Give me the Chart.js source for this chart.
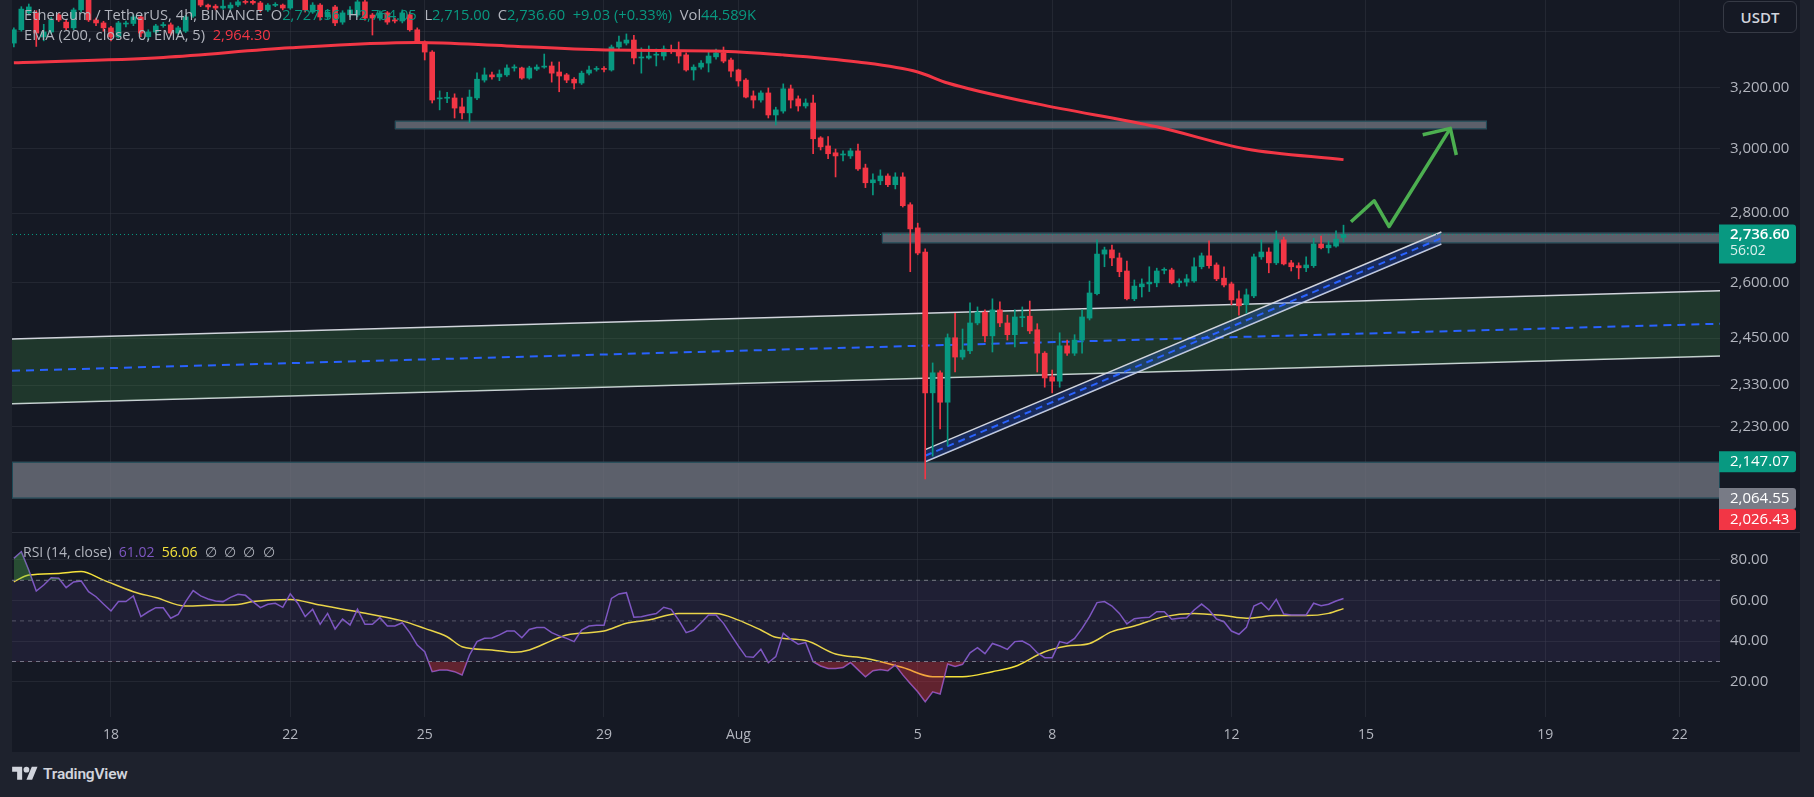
<!DOCTYPE html>
<html>
<head>
<meta charset="utf-8">
<script src="https://cdn.jsdelivr.net/npm/chart.js"></script>
<style>
  html, body { margin: 0; padding: 0; width: 1814px; height: 797px; overflow: hidden; background: #1e222d; font-family: 'Open Sans', sans-serif; }
  #frame { position: absolute; left: 12px; top: 0; width: 1788px; height: 752px; background: #151924; }
  #priceChart { position: absolute; left: 0; top: 0; }
  #rsiChart { position: absolute; left: 0; top: 532px; }
  #sep { position: absolute; left: 12px; top: 532px; width: 1788px; height: 1px; background: #2a2e39; }
  #usdt { position: absolute; left: 1723px; top: 1px; width: 72px; height: 30px; border: 1px solid #363a45; border-radius: 6px;
          background: #151924; color: #d1d4dc; font-size: 15px; font-weight: 600; line-height: 30px; text-align: center; }
  #logo { position: absolute; left: 12px; top: 764px; display: flex; align-items: center; color: #d1d4dc; font-family: Roboto, sans-serif; font-size: 15.5px; font-weight: 600; letter-spacing: -0.2px; }
  #logo svg { margin-right: 5px; }
</style>
</head>
<body>
<div id="frame"></div>
<canvas id="priceChart" width="1814" height="532"></canvas>
<div id="sep"></div>
<canvas id="rsiChart" width="1814" height="220"></canvas>
<div id="usdt">USDT</div>
<div id="logo">
  <svg width="26" height="20" viewBox="0 0 36 28"><path d="M14 22H7V11H0V4h14v18zM28 22h-8l7.5-18h8L28 22z" fill="#d1d4dc"/><circle cx="20" cy="8" r="4" fill="#d1d4dc"/></svg>
  TradingView
</div>
<script>
// === ETH/USDT 4h candles, first one opens Jul 15 20:00 ===
const opens = [3357,3405,3467,3467,3379,3397,3459,3433,3412,3478,
  3515,3441,3430,3412,3379,3426,3428,3452,3380,3397,
  3420,3423,3393,3400,3455,3525,3496,3492,3485,3485,
  3496,3508,3510,3504,3478,3495,3496,3485,3525,3540,
  3470,3496,3452,3489,3433,3460,3459,3508,3459,3448,
  3467,3441,3437,3460,3405,3361,3325,3163,3165,3166,
  3136,3116,3166,3227,3245,3238,3245,3269,3269,3234,
  3265,3272,3276,3255,3245,3230,3217,3251,3264,3267,
  3262,3343,3357,3368,3304,3304,3314,3311,3332,3325,
  3315,3262,3272,3286,3308,3322,3297,3262,3227,3173,
  3159,3183,3109,3122,3197,3163,3139,3149,3034,3008,
  2986,2979,2976,2992,2938,2892,2898,2913,2886,2910,
  2825,2756,2686,2311,2361,2288,2451,2401,2417,2490,
  2519,2456,2525,2490,2459,2504,2508,2472,2411,2351,
  2340,2430,2411,2445,2503,2569,2680,2692,2669,2632,
  2555,2588,2596,2599,2634,2635,2599,2601,2604,2644,
  2675,2649,2612,2596,2555,2539,2563,2672,2686,2655,
  2721,2655,2647,2641,2647,2709,2698,2703,2727.56];
const highs = [3412,3490,3500,3475,3425,3450,3465,3440,3485,3535,
  3525,3448,3436,3418,3436,3437,3460,3458,3405,3425,
  3432,3430,3418,3458,3540,3535,3500,3498,3515,3505,
  3520,3518,3522,3510,3502,3505,3500,3540,3562,3550,
  3505,3502,3480,3495,3475,3490,3525,3530,3465,3475,
  3472,3448,3478,3470,3412,3365,3330,3190,3185,3180,
  3166,3193,3252,3269,3255,3262,3280,3280,3272,3275,
  3280,3318,3290,3290,3250,3236,3258,3276,3274,3274,
  3350,3382,3390,3385,3340,3347,3336,3347,3350,3361,
  3322,3280,3295,3325,3336,3343,3304,3265,3232,3190,
  3190,3200,3135,3214,3210,3173,3163,3176,3038,3038,
  2998,2992,3000,3014,2950,2920,2932,2920,2923,2923,
  2831,2770,2695,2386,2366,2461,2516,2474,2544,2533,
  2525,2555,2547,2511,2525,2533,2549,2488,2415,2368,
  2464,2445,2459,2525,2604,2721,2700,2706,2683,2660,
  2607,2610,2644,2640,2641,2640,2610,2622,2669,2683,
  2718,2655,2644,2601,2577,2582,2680,2721,2698,2747,
  2729,2662,2655,2672,2726,2732,2718,2747,2764.05];
const lows = [3343,3400,3460,3345,3365,3390,3435,3405,3405,3470,
  3435,3420,3400,3365,3375,3415,3420,3380,3370,3390,
  3414,3385,3388,3395,3450,3490,3480,3478,3480,3478,
  3490,3500,3498,3470,3472,3490,3478,3480,3518,3470,
  3465,3440,3445,3420,3425,3452,3452,3440,3386,3440,
  3425,3430,3430,3400,3355,3297,3149,3126,3150,3099,
  3096,3083,3160,3220,3230,3225,3240,3258,3230,3230,
  3260,3268,3220,3187,3218,3197,3212,3245,3258,3255,
  3258,3335,3350,3283,3251,3300,3276,3297,3320,3286,
  3258,3227,3265,3255,3300,3287,3238,3206,3166,3132,
  3152,3099,3076,3115,3132,3122,3132,2983,2995,2967,
  2910,2960,2968,2930,2877,2855,2886,2880,2873,2818,
  2630,2678,2108,2160,2224,2184,2363,2395,2410,2485,
  2440,2414,2480,2445,2427,2480,2462,2363,2325,2311,
  2325,2405,2405,2411,2498,2566,2644,2647,2616,2552,
  2550,2560,2575,2588,2624,2596,2588,2590,2600,2638,
  2640,2605,2588,2539,2511,2516,2558,2665,2627,2650,
  2649,2632,2610,2630,2642,2695,2683,2700,2715];
const closes = [3405,3481,3489,3393,3397,3441,3441,3412,3478,3520,
  3441,3430,3412,3379,3430,3428,3452,3393,3397,3419,
  3424,3393,3412,3452,3525,3496,3489,3485,3492,3496,
  3508,3506,3504,3478,3496,3497,3485,3525,3545,3478,
  3496,3452,3470,3430,3467,3478,3508,3448,3448,3467,
  3433,3437,3467,3405,3361,3325,3159,3165,3167,3132,
  3116,3169,3230,3245,3238,3248,3269,3271,3234,3269,
  3272,3275,3251,3241,3227,3217,3251,3262,3266,3264,
  3343,3361,3368,3304,3306,3311,3316,3336,3328,3311,
  3262,3272,3286,3311,3322,3293,3258,3224,3169,3159,
  3183,3109,3126,3197,3159,3139,3149,3031,3005,2983,
  2976,2981,2992,2935,2892,2901,2913,2886,2910,2822,
  2753,2683,2311,2361,2288,2451,2401,2419,2490,2519,
  2456,2525,2490,2459,2506,2507,2469,2411,2348,2340,
  2430,2411,2445,2506,2571,2680,2692,2669,2630,2555,
  2590,2596,2601,2632,2636,2599,2604,2610,2644,2675,
  2647,2610,2593,2552,2536,2566,2672,2686,2655,2721,
  2652,2644,2641,2649,2709,2698,2706,2723,2736.6];

// EMA 200 read at some candles
const emaIdx = [0,20,37,54,66,80,94,103,113,121,125,137,153,165,178];
const emaVal = [3287,3306,3340,3359,3347,3332,3329,3315,3290,3255,3217,3146,3070,2998,2964.3];

// RSI 14, one per candle
const rsi = [80.8,84.1,75,64.7,67.7,71.3,71,66.4,69.2,69.7,
  64.4,61.9,58.3,54.9,59.5,59.5,62.3,52.1,54.5,56.5,
  56.5,51.3,53.2,59.5,64.9,62.3,60.8,59.8,59.5,61.6,
  63.1,62.6,59.5,56.5,58.2,58.7,56.7,63.3,58.7,52.1,
  55.7,48.3,53.7,46,50.9,48,55.7,48.3,48.3,51.6,
  47.5,47.5,49.1,44.2,38.1,34.8,25,25.8,25.8,25,
  23.4,33.2,39.8,41.4,41.6,43.1,45,45,41.7,45.8,
  46.7,46.8,44.2,42.6,41.4,39.8,45.5,47.5,47.8,47.8,
  61.1,63.3,63.9,51.8,52.1,52.9,53.6,56.7,55.7,50.4,
  44.2,45.5,49.1,52.9,52.9,48.8,43.1,37.6,32.4,32.1,
  36,29.4,32.4,43.9,40.9,38.5,39.3,29.9,27.8,26.6,
  26.6,27,29.5,26,22.5,25.5,26,25.5,28.3,23.4,
  19.2,15.1,10.2,15.1,14,28.8,27.5,28.6,34.3,36.8,
  33.9,38.9,37.6,36,39.8,40.1,38.1,34.3,31.9,31.9,
  39.8,38.9,41.4,46.3,52.1,59,59.5,57.3,53.7,48.5,
  51.1,51.6,51.8,54.5,54.5,50.8,51.3,51.6,55.4,58.3,
  55.4,50.9,49.6,45,43.4,46.8,57.3,59,55.4,60.6,
  53.4,52.9,52.9,52.9,58.7,57.5,58.2,59.8,61.02];
// RSI based MA, read at some candles
const rsiMaIdx = [0,2,6,9,12,16,19,23,27,30,32,37,41,46,52,55,58,60,64,67,69,72,74,79,82,85,89,94,97,100,
  102,106,110,114,119,123,127,131,134,138,141,144,147,150,154,158,162,165,169,173,176,178];
const rsiMaVal = [69.3,72.6,73.4,74.3,70.1,64.4,61.5,57.3,57.8,58.1,59.5,60.6,57.8,54.5,50,46.3,42.2,37.3,35.7,34.5,
  35.7,40.3,43.1,45,48.8,50.4,53.7,53.7,50.4,45.5,41.9,40.3,33.7,31.6,27,22.5,22.5,25,27.5,34.8,
  37.6,38.9,44.7,47.5,52.1,53.7,52.6,51.3,52.6,52.6,53.7,56.06];

// axis ticks (x in candle numbers, day starts)
const dayTicks = [13,37,55,79,97,121,139,163,181,205,223];
const dayLabels = ['18','22','25','29','Aug','5','8','12','15','19','22'];
const priceTicks = [3400,3200,3000,2800,2600,2450,2330,2230];
const rsiTicks = [80,60,40,20];

// drawings
const X_MIN = -0.25, X_MAX = 228.4;
const channelTop = [2448, 2577];
const channelMid = [2366, 2488];
const channelBottom = [2284, 2404];
const riseX = [122, 191.1];
const riseTop = [2175, 2744];
const riseMid = [2161, 2726];
const riseBottom = [2147, 2709];
const zoneStart = [51, 116.2, X_MIN];
const zoneEnd = [197.2, X_MAX, X_MAX];
const zoneHigh = [3090, 2742, 2147.07];
const zoneLow = [3062, 2711, 2064.55];
const arrowIdx = [179, 182.1, 184.1, 192.3];
const arrowVal = [2774, 2837, 2760, 3065];
const headIdx = [188.6, 192.3, 193.1];
const headVal = [3044, 3065, 2979];
const lastPrice = 2736.6;
const tagValues = [2736.6, 2147.07, 2064.55, 2026.43];
const tagColors = ['#089981', '#089981', '#787b86', '#f23645'];
const countdown = '56:02';

const UP = '#089981', DOWN = '#f23645', GRID = 'rgba(54,58,69,0.45)', TEXT = '#b2b5be';
const FONT = "'Open Sans'";
Chart.defaults.font.family = FONT;

const idx = closes.map((c, i) => i);
const candleColor = closes.map((c, i) => c >= opens[i] ? UP : DOWN);
const pts = (xs, ys) => xs.map((x, i) => ({x: x, y: ys[i]}));
const fmt = v => v.toLocaleString('en-US', {minimumFractionDigits: 2, maximumFractionDigits: 2});

function line(data, color, width, extra) {
  return Object.assign({type: 'line', data: data, borderColor: color, borderWidth: width,
    pointRadius: 0, tension: 0, fill: false}, extra || {});
}

function drawPieces(ctx, x, y, pieces, font) {
  ctx.font = font;
  ctx.textBaseline = 'middle';
  ctx.textAlign = 'left';
  pieces.forEach(p => {
    ctx.fillStyle = p[1];
    ctx.fillText(p[0], x, y);
    x += ctx.measureText(p[0]).width;
  });
}

const xTicks = s => { s.ticks = dayTicks.map(v => ({value: v})); };
// keep the plot area at full height, labels may overhang
const fitRight = s => { s.width = 80; s.paddingTop = 0; s.paddingBottom = 0; };

// zones, legend and price tags
const priceDecor = {
  id: 'priceDecor',
  beforeDatasetsDraw(chart) {
    const {ctx, chartArea: a, scales: {x, y}} = chart;
    ctx.save();
    ctx.beginPath();
    ctx.rect(a.left, a.top, a.right - a.left, a.bottom - a.top);
    ctx.clip();
    zoneStart.forEach((s, k) => {
      const x0 = x.getPixelForValue(s), x1 = x.getPixelForValue(zoneEnd[k]);
      const y0 = y.getPixelForValue(zoneHigh[k]), y1 = y.getPixelForValue(zoneLow[k]);
      ctx.fillStyle = 'rgba(120,123,134,0.72)';
      ctx.fillRect(x0, y0, x1 - x0, y1 - y0);
      ctx.strokeStyle = '#1d4b58';
      ctx.lineWidth = 1;
      ctx.strokeRect(x0 + 0.5, y0 + 0.5, x1 - x0 - 1, y1 - y0 - 1);
    });
    ctx.restore();
  },
  afterDraw(chart) {
    const {ctx, chartArea: a, scales: {y}} = chart;

    const g = TEXT, gr = UP;
    drawPieces(ctx, 24, 16, [['Ethereum / TetherUS, 4h, BINANCE', g], ['  O', g], ['2,727.56', gr], ['  H', g], ['2,764.05', gr],
      ['  L', g], ['2,715.00', gr], ['  C', g], ['2,736.60', gr], ['  +9.03 (+0.33%)', gr], ['  Vol', g], ['44.589K', gr]], '14.7px ' + FONT);
    drawPieces(ctx, 24, 36, [['EMA (200, close, 0, EMA, 5)', g], ['  2,964.30', DOWN]], '14.7px ' + FONT);

    let prevBottom = -1e9;
    tagValues.forEach((v, k) => {
      const cy = y.getPixelForValue(v);
      const h = k === 0 ? 39 : 21;
      let top = k === 0 ? cy - 10 : cy - 10.5;
      if (top < prevBottom) top = prevBottom;
      prevBottom = top + h;
      ctx.fillStyle = tagColors[k];
      ctx.beginPath();
      ctx.roundRect(a.right - 1, top, 77, h, [0, 3, 3, 0]);
      ctx.fill();
      ctx.fillStyle = '#ffffff';
      ctx.textBaseline = 'middle';
      ctx.textAlign = 'left';
      ctx.font = (k === 0 ? '600 ' : '') + '15px ' + FONT;
      ctx.fillText(fmt(v), a.right + 10, top + 10.5);
      if (k === 0) {
        ctx.font = '14px ' + FONT;
        ctx.fillStyle = 'rgba(255,255,255,0.85)';
        ctx.fillText(countdown, a.right + 10, top + 27);
      }
    });
  }
};

new Chart(document.getElementById('priceChart'), {
  type: 'bar',
  data: {
    datasets: [
      line(pts([X_MIN, X_MAX], channelTop), '#d1d4dc', 1.5, {fill: '+1', backgroundColor: 'rgba(76,175,80,0.2)', order: 10}),
      line(pts([X_MIN, X_MAX], channelBottom), '#d1d4dc', 1.5, {order: 10}),
      line(pts([X_MIN, X_MAX], channelMid), '#2962ff', 2, {borderDash: [8, 6], order: 9}),
      line(pts(riseX, riseTop), '#d1d4dc', 1.5, {fill: '+1', backgroundColor: 'rgba(41,98,255,0.25)', order: 8}),
      line(pts(riseX, riseBottom), '#d1d4dc', 1.5, {order: 8}),
      line(pts(riseX, riseMid), '#2962ff', 2, {borderDash: [7, 5], order: 7}),
      line(pts([X_MIN, X_MAX], [lastPrice, lastPrice]), UP, 1, {borderDash: [1, 3], order: 6}),
      {type: 'bar', data: idx.map(i => ({x: i, y: [lows[i], highs[i]]})), backgroundColor: candleColor,
        barThickness: 1, grouped: false, order: 5},
      {type: 'bar', data: idx.map(i => ({x: i, y: [opens[i], closes[i]]})), backgroundColor: candleColor,
        barThickness: 5, minBarLength: 1, grouped: false, order: 4},
      line(pts(emaIdx, emaVal), DOWN, 3, {cubicInterpolationMode: 'monotone', order: 3}),
      line(pts(arrowIdx, arrowVal), '#4caf50', 3.5, {borderJoinStyle: 'round', order: 1}),
      line(pts(headIdx, headVal), '#4caf50', 3.5, {borderJoinStyle: 'round', order: 1})
    ]
  },
  options: {
    responsive: false,
    animation: false,
    devicePixelRatio: 1,
    layout: {padding: {left: 12, right: 14, top: 0, bottom: 0}},
    plugins: {legend: {display: false}, tooltip: {enabled: false}},
    scales: {
      x: {type: 'linear', min: X_MIN, max: X_MAX, offset: false,
        grid: {color: GRID, drawTicks: false, offset: false}, border: {display: false},
        ticks: {display: false}, afterBuildTicks: xTicks, afterFit: s => { s.height = 0; }},
      y: {type: 'logarithmic', position: 'right', min: 1992, max: 3515, bounds: 'data',
        grid: {color: GRID, drawTicks: false}, border: {display: false},
        // the 3,400 label sits under the USDT button
        ticks: {color: TEXT, font: {size: 15}, padding: 10, callback: v => v > 3300 ? '' : fmt(v)},
        afterBuildTicks: s => { s.ticks = priceTicks.map(v => ({value: v})); },
        afterFit: fitRight}
    }
  },
  plugins: [priceDecor]
});

const rsiLegend = {
  id: 'rsiLegend',
  afterDatasetsDraw(chart) {
    drawPieces(chart.ctx, 23, 21, [['RSI (14, close)', TEXT], ['  61.02', '#7e57c2'], ['  56.06', '#f5e23b'],
      ['  \u2205  \u2205  \u2205  \u2205', TEXT]], '14px ' + FONT);
  }
};

new Chart(document.getElementById('rsiChart'), {
  type: 'line',
  data: {
    datasets: [
      line(pts([X_MIN, X_MAX], [70, 70]), '#787b86', 1, {borderDash: [4, 4], fill: '+1', backgroundColor: 'rgba(126,87,194,0.1)'}),
      line(pts([X_MIN, X_MAX], [30, 30]), '#787b86', 1, {borderDash: [4, 4]}),
      line(pts([X_MIN, X_MAX], [50, 50]), 'rgba(120,123,134,0.6)', 1, {borderDash: [4, 4]}),
      line(pts(idx, rsi), 'transparent', 1, {fill: {target: {value: 70}, above: 'rgba(76,175,80,0.35)', below: 'transparent'}}),
      line(pts(idx, rsi), 'transparent', 1, {fill: {target: {value: 30}, above: 'transparent', below: 'rgba(242,54,69,0.35)'}}),
      line(pts(idx, rsi), '#7e57c2', 1.5),
      line(pts(rsiMaIdx, rsiMaVal), '#f5e23b', 1.5, {cubicInterpolationMode: 'monotone'})
    ]
  },
  options: {
    responsive: false,
    animation: false,
    devicePixelRatio: 1,
    layout: {padding: {left: 12, right: 14, top: 1, bottom: 0}},
    plugins: {legend: {display: false}, tooltip: {enabled: false}},
    scales: {
      x: {type: 'linear', min: X_MIN, max: X_MAX, bounds: 'data',
        grid: {color: GRID, drawTicks: false}, border: {display: false},
        ticks: {color: TEXT, font: {size: 14}, padding: 10, autoSkip: false, maxRotation: 0,
          callback: v => dayLabels[dayTicks.indexOf(v)]},
        afterBuildTicks: xTicks,
        afterFit: s => { s.height = 35; s.paddingLeft = 0; s.paddingRight = 0; }},
      y: {position: 'right', min: 2.66, max: 93.3, bounds: 'data',
        grid: {color: GRID, drawTicks: false}, border: {display: false},
        ticks: {color: TEXT, font: {size: 15}, padding: 10, callback: v => v.toFixed(2)},
        afterBuildTicks: s => { s.ticks = rsiTicks.map(v => ({value: v})); },
        afterFit: fitRight}
    }
  },
  plugins: [rsiLegend]
});
</script>
</body>
</html>
